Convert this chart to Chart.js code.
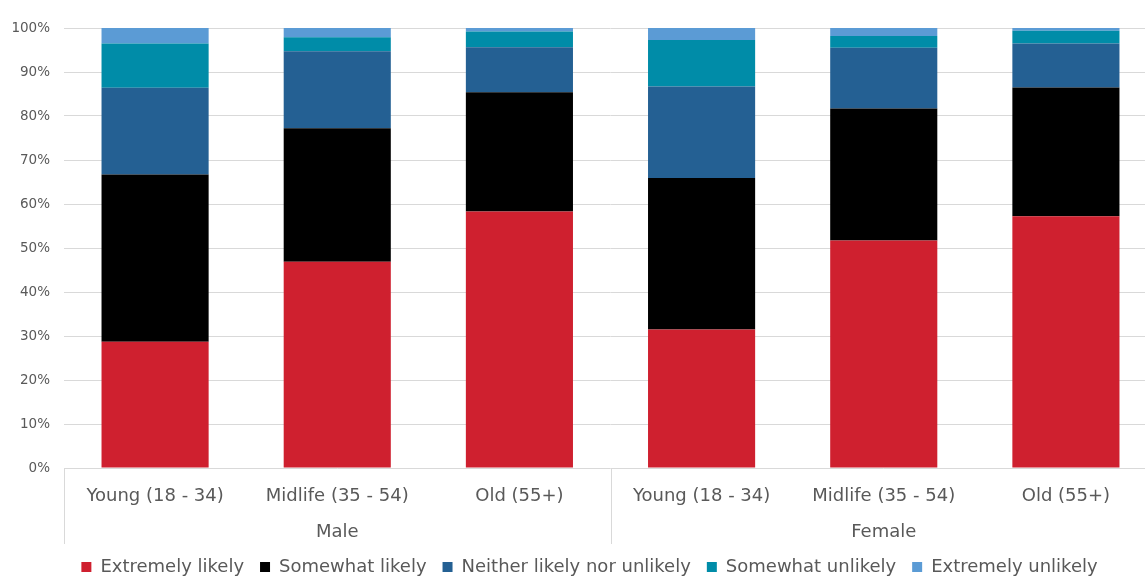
<!DOCTYPE html>
<html>
<head>
<meta charset="utf-8">
<script src="https://cdn.jsdelivr.net/npm/chart.js@4.4.1/dist/chart.umd.min.js"></script>
<style>
  html, body { margin: 0; padding: 0; overflow: hidden; background: #ffffff; }
  #wrap { position: relative; width: 1157px; height: 577px; }
</style>
</head>
<body>
<div id="wrap"><canvas id="chart"></canvas></div>
<script>
// Respondent groups and age bands (two-level category axis)
const genders = ['Male', 'Female'];
const ageBands = ['Young (18 - 34)', 'Midlife (35 - 54)', 'Old (55+)'];

// Share of respondents (%) per answer, in order Male x3, Female x3
const extremelyLikely   = [28.7, 46.9, 58.3, 31.5, 51.7, 57.2];
const somewhatLikely    = [38.0, 30.3, 27.1, 34.4, 30.0, 29.3];
const neitherLikely     = [19.7, 17.5, 10.2, 20.8, 13.8, 10.0];
const somewhatUnlikely  = [10.1,  3.2,  3.6, 10.6,  2.7,  2.9];
const extremelyUnlikely = [ 3.5,  2.1,  0.8,  2.7,  1.8,  0.6];

const answerNames = ['Extremely likely', 'Somewhat likely', 'Neither likely nor unlikely',
                     'Somewhat unlikely', 'Extremely unlikely'];
const answerColors = ['#CF202F', '#000000', '#246093', '#008CA8', '#5B9BD5'];
const answerValues = [extremelyLikely, somewhatLikely, neitherLikely, somewhatUnlikely, extremelyUnlikely];

const yTicks = [0, 10, 20, 30, 40, 50, 60, 70, 80, 90, 100];

const FONT = '"DejaVu Sans", "Open Sans", sans-serif';
const TEXT = '#595959';
const GRID = '#D9D9D9';

// One unique key per bar; the tick shows only the age band
const categories = genders.flatMap(g => ageBands.map(a => g + '|' + a));

// Draws the outer gender level of the axis and its separators
const genderAxis = {
  id: 'genderAxis',
  afterDraw(chart) {
    const { ctx, chartArea, scales: { x } } = chart;
    const top = chartArea.bottom;
    const bottom = top + 76;
    const step = x.getPixelForValue(1) - x.getPixelForValue(0);
    ctx.save();
    ctx.strokeStyle = GRID;
    ctx.lineWidth = 1;
    for (let i = 0; i <= genders.length; i++) {
      const px = Math.round(x.getPixelForValue(i * ageBands.length) - step / 2) + 0.5;
      ctx.beginPath();
      ctx.moveTo(px, top);
      ctx.lineTo(px, bottom);
      ctx.stroke();
    }
    ctx.fillStyle = TEXT;
    ctx.font = '18px ' + FONT;
    ctx.textAlign = 'center';
    ctx.textBaseline = 'middle';
    genders.forEach((g, gi) => {
      const first = x.getPixelForValue(gi * ageBands.length);
      const last = x.getPixelForValue(gi * ageBands.length + ageBands.length - 1);
      ctx.fillText(g, (first + last) / 2, top + 64);
    });
    ctx.restore();
  }
};

// Nudge the legend row right and down
const legendShift = {
  id: 'legendShift',
  afterLayout(chart) {
    chart.legend.left += 11;
    chart.legend.right += 11;
    chart.legend.top += 9;
    chart.legend.bottom += 9;
  }
};

new Chart(document.getElementById('chart'), {
  type: 'bar',
  data: {
    labels: categories,
    datasets: answerNames.map((name, i) => ({
      label: name,
      data: answerValues[i],
      backgroundColor: answerColors[i],
      borderWidth: 0,
      categoryPercentage: 1.0,
      barPercentage: 0.588
    }))
  },
  options: {
    responsive: true,
    maintainAspectRatio: false,
    animation: false,
    layout: { padding: { top: 28, left: 0, right: 0, bottom: 0 } },
    scales: {
      x: {
        stacked: true,
        grid: { display: false, drawTicks: false },
        border: { display: false },
        ticks: {
          color: TEXT,
          font: { family: FONT, size: 18 },
          padding: 18,
          maxRotation: 0,
          autoSkip: false,
          callback(value) { return this.getLabelForValue(value).split('|')[1]; }
        },
        afterFit(scale) { scale.height = 65; }
      },
      y: {
        stacked: true,
        min: 0,
        max: 100,
        afterBuildTicks(scale) { scale.ticks = yTicks.map(v => ({ value: v })); },
        grid: { color: GRID, lineWidth: 1, drawTicks: false },
        border: { display: false },
        ticks: {
          color: TEXT,
          font: { family: FONT, size: 13.5 },
          padding: 14,
          callback: v => v + '%'
        },
        afterFit(scale) { scale.width = 64; }
      }
    },
    plugins: {
      legend: {
        position: 'bottom',
        labels: {
          boxWidth: 10,
          boxHeight: 10,
          padding: 16,
          color: TEXT,
          font: { family: FONT, size: 18 }
        }
      },
      tooltip: { enabled: false }
    }
  },
  plugins: [genderAxis, legendShift]
});
</script>
</body>
</html>
